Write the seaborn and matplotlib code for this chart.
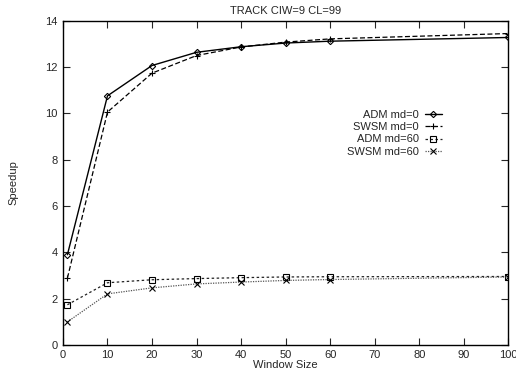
import matplotlib
matplotlib.use("Agg")
import matplotlib.pyplot as plt
import pandas as pd
import seaborn as sns

WINDOW = [1, 10, 20, 30, 40, 50, 60, 100]
ADM_MD0 = [3.89, 10.75, 12.06, 12.63, 12.87, 13.03, 13.11, 13.27]
SWSM_MD0 = [2.88, 10.05, 11.73, 12.49, 12.86, 13.07, 13.21, 13.44]
ADM_MD60 = [1.73, 2.68, 2.81, 2.86, 2.9, 2.93, 2.94, 2.95]
SWSM_MD60 = [0.99, 2.2, 2.46, 2.63, 2.71, 2.78, 2.82, 2.93]

LABELS = ["ADM md=0", "SWSM md=0", "ADM md=60", "SWSM md=60"]
SERIES = [ADM_MD0, SWSM_MD0, ADM_MD60, SWSM_MD60]

sns.set_style("ticks")
plt.rcParams["font.family"] = ["Liberation Sans", "DejaVu Sans"]
plt.rcParams["font.size"] = 8

fig, ax = plt.subplots(figsize=(5.16, 3.74), dpi=100)
fig.subplots_adjust(left=0.122, right=0.985, top=0.945, bottom=0.078)

styles = [
    dict(marker="D", markersize=3.2, linestyle="-", color="black", linewidth=1.0),
    dict(marker="+", markersize=4.5, linestyle=(0, (4, 2)), color="black", linewidth=0.9),
    dict(marker="s", markersize=3.8, linestyle=(0, (2, 2)), color="#222222", linewidth=0.9),
    dict(marker="x", markersize=3.8, linestyle=(0, (1, 1)), color="#555555", linewidth=0.9),
]

for label, values, st in zip(LABELS, SERIES, styles):
    df = pd.DataFrame({"Window Size": WINDOW, "Speedup": values})
    sns.lineplot(data=df, x="Window Size", y="Speedup", ax=ax, label=label,
                 markerfacecolor="none", markeredgecolor="black",
                 markeredgewidth=0.8, errorbar=None, **st)

ax.set_xlim(0, 100)
ax.set_ylim(0, 14)
ax.set_xticks(range(0, 101, 10))
ax.set_yticks(range(0, 15, 2))
ax.tick_params(direction="in", top=True, right=True, length=5, width=0.8, labelsize=8, pad=4)
for sp in ax.spines.values():
    sp.set_linewidth(1.0)
    sp.set_color("black")

ax.set_title("TRACK CIW=9 CL=99", fontsize=8, pad=5)
ax.set_xlabel("Window Size", fontsize=8, labelpad=0)
ax.set_ylabel("Speedup", fontsize=8, labelpad=19)

ax.legend(loc="upper right", bbox_to_anchor=(0.862, 0.738), frameon=False,
          markerfirst=False, handlelength=1.6, handletextpad=0.5,
          labelspacing=0.2, fontsize=8, borderaxespad=0)

fig.savefig("out.png", dpi=100)
